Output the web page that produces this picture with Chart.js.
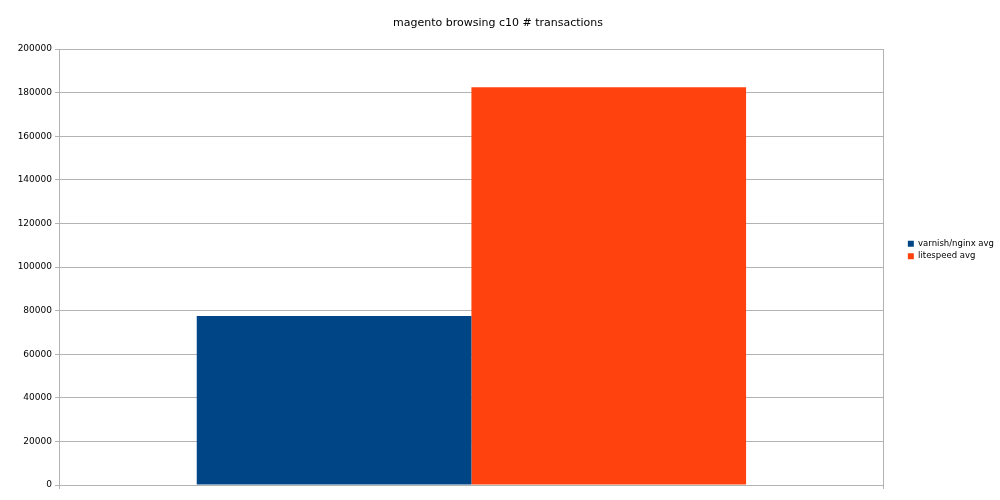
<!DOCTYPE html>
<html lang="en">
<head>
    <meta charset="UTF-8" />
    <title>magento browsing c10 # transactions</title>
    <script src="https://cdn.jsdelivr.net/npm/chart.js"></script>
    <style>
        body { margin: 0; background: #fff; }
        canvas { display: block; }
    </style>
</head>
<body>
    <canvas id="chart" width="1000" height="500"></canvas>
    <script>
        const categories = [""];
        const seriesNames = ["varnish/nginx avg", "litespeed avg"];
        const varnishValues = [77500];
        const litespeedValues = [182500];
        const seriesColors = ["#004586", "#ff420e"];

        Chart.defaults.font.family = "'DejaVu Sans', sans-serif";
        Chart.defaults.color = "#000";

        // gap between plot area and legend entries
        const legendGap = 20;
        const legendTrim = 8;
        const legendShift = {
            id: "legendShift",
            afterInit(chart) {
                const legend = chart.legend;
                const fit = legend.fit.bind(legend);
                legend.fit = function () {
                    fit();
                    this.width += legendGap - legendTrim;
                };
            },
            afterLayout(chart) {
                chart.legend.left += legendGap;
            }
        };

        const ctx = document.getElementById("chart").getContext("2d");
        new Chart(ctx, {
            type: "bar",
            data: {
                labels: categories,
                datasets: [
                    { label: seriesNames[0], data: varnishValues, backgroundColor: seriesColors[0] },
                    { label: seriesNames[1], data: litespeedValues, backgroundColor: seriesColors[1] }
                ]
            },
            options: {
                responsive: false,
                animation: false,
                devicePixelRatio: 1,
                layout: { padding: { left: 0, right: 4, top: 0, bottom: 0 } },
                datasets: { bar: { barPercentage: 1, categoryPercentage: 0.666 } },
                plugins: {
                    title: {
                        display: true,
                        text: "magento browsing c10 # transactions",
                        font: { size: 11, weight: "normal" },
                        color: "#000",
                        padding: { top: 17, bottom: 18.8 }
                    },
                    legend: {
                        position: "right",
                        labels: {
                            boxWidth: 6,
                            boxHeight: 6,
                            padding: 4,
                            font: { size: 8.5 },
                            color: "#000"
                        }
                    },
                    tooltip: { enabled: false }
                },
                scales: {
                    x: {
                        grid: { offset: true, color: "#b3b3b3", tickLength: 4 },
                        border: { color: "#b3b3b3" },
                        ticks: { display: false },
                        afterFit: (scale) => { scale.height = 15; }
                    },
                    y: {
                        min: 0,
                        max: 200000,
                        ticks: {
                            stepSize: 20000,
                            font: { size: 9 },
                            padding: 3,
                            color: "#000",
                            callback: (v) => String(v)
                        },
                        grid: { color: "#b3b3b3", tickLength: 4 },
                        border: { color: "#b3b3b3" },
                        afterFit: (scale) => { scale.width = 59; }
                    }
                }
            },
            plugins: [legendShift]
        });
    </script>
</body>
</html>
